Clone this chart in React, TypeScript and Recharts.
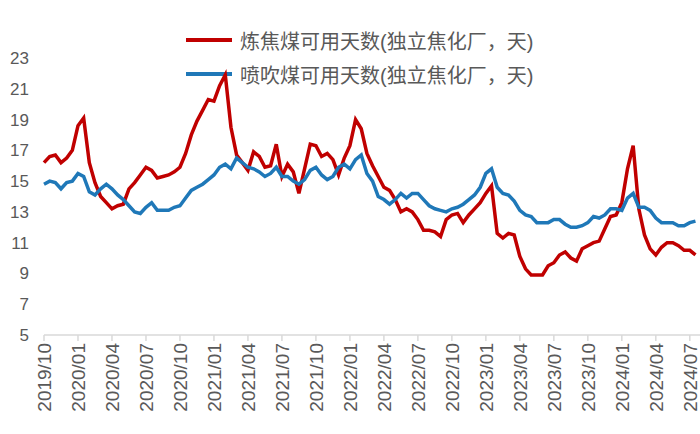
import { Line, LineChart, XAxis, YAxis } from "recharts";

// half-month samples starting 2019/10
const cokingCoal = [
  16.2, 16.6, 16.7, 16.2, 16.5, 17.0, 18.6, 19.1, 16.2, 14.9,
  14.0, 13.6, 13.2, 13.4, 13.5, 14.5, 14.9, 15.4, 15.9, 15.7,
  15.2, 15.3, 15.4, 15.6, 15.9, 16.8, 18.0, 18.9, 19.6, 20.3,
  20.2, 21.2, 21.9, 18.5, 16.7, 16.2, 15.7, 16.9, 16.6, 15.9,
  16.0, 17.4, 15.3, 16.1, 15.6, 14.2, 15.8, 17.4, 17.3, 16.6,
  16.8, 16.4, 15.4, 16.5, 17.3, 19.0, 18.4, 16.8, 16.0, 15.3,
  14.6, 14.4, 13.8, 13.0, 13.2, 13.0, 12.5, 11.8, 11.8, 11.7,
  11.4, 12.5, 12.8, 12.9, 12.3, 12.8, 13.2, 13.6, 14.2, 14.7,
  11.6, 11.3, 11.6, 11.5, 10.1, 9.3, 8.9, 8.9, 8.9, 9.5,
  9.7, 10.2, 10.4, 10.0, 9.8, 10.6, 10.8, 11.0, 11.1, 11.9,
  12.7, 12.8, 13.6, 15.8, 17.3, 13.2, 11.5, 10.6, 10.2, 10.7,
  11.0, 11.0, 10.8, 10.5, 10.5, 10.2,
];

const pciCoal = [
  14.8, 15.0, 14.9, 14.5, 14.9, 15.0, 15.5, 15.3, 14.3, 14.1,
  14.5, 14.8, 14.5, 14.1, 13.8, 13.4, 13.0, 12.9, 13.3, 13.6,
  13.1, 13.1, 13.1, 13.3, 13.4, 13.9, 14.4, 14.6, 14.8, 15.1,
  15.4, 15.9, 16.1, 15.8, 16.5, 16.2, 15.9, 15.8, 15.6, 15.3,
  15.5, 15.9, 15.3, 15.3, 15.0, 14.8, 15.1, 15.7, 15.9, 15.4,
  15.1, 15.3, 15.9, 16.1, 15.8, 16.4, 16.7, 15.5, 15.0, 14.0,
  13.8, 13.5, 13.8, 14.2, 13.9, 14.2, 14.2, 13.8, 13.4, 13.2,
  13.1, 13.0, 13.2, 13.3, 13.5, 13.8, 14.1, 14.6, 15.5, 15.8,
  14.6, 14.2, 14.1, 13.7, 13.1, 12.8, 12.7, 12.3, 12.3, 12.3,
  12.5, 12.5, 12.2, 12.0, 12.0, 12.1, 12.3, 12.7, 12.6, 12.8,
  13.2, 13.2, 13.1, 13.9, 14.2, 13.3, 13.3, 13.1, 12.6, 12.3,
  12.3, 12.3, 12.1, 12.1, 12.3, 12.4,
];

const quarterLabels = [
  "2019/10", "2020/01", "2020/04", "2020/07", "2020/10",
  "2021/01", "2021/04", "2021/07", "2021/10",
  "2022/01", "2022/04", "2022/07", "2022/10",
  "2023/01", "2023/04", "2023/07", "2023/10",
  "2024/01", "2024/04", "2024/07",
];

const seriesNames = ["炼焦煤可用天数(独立焦化厂，天)", "喷吹煤可用天数(独立焦化厂，天)"];

const yTicks = [5, 7, 9, 11, 13, 15, 17, 19, 21, 23];

const RED = "#C00000";
const BLUE = "#1F78B8";
const TEXT = "#595959";
const FONT = "'Liberation Sans', 'Noto Sans CJK SC', sans-serif";

const data = cokingCoal.map((v, i) => ({
  m: i * 0.5,
  coking: v,
  pci: pciCoal[i],
}));

const quarterTicks = quarterLabels.map((_, i) => i * 3);

function RotatedTick(props: any) {
  const { x, y, payload } = props;
  const label = quarterLabels[Math.round(payload.value / 3)] ?? "";
  return (
    <text
      x={x}
      y={y}
      transform={`rotate(-90, ${x}, ${y})`}
      textAnchor="end"
      dy="0.36em"
      fill={TEXT}
      fontSize={19}
      fontFamily={FONT}
    >
      {label}
    </text>
  );
}

function LegendBox() {
  const colors = [RED, BLUE];
  return (
    <div style={{ position: "absolute", top: 23, left: 186, zIndex: 0 }}>
      {seriesNames.map((name, i) => (
        <div key={name} style={{ display: "flex", alignItems: "center", height: 34 }}>
          <span style={{ display: "inline-block", width: 46, height: 4, background: colors[i], marginRight: 8 }} />
          <span style={{ color: TEXT, fontSize: 20, fontFamily: FONT, whiteSpace: "nowrap" }}>{name}</span>
        </div>
      ))}
    </div>
  );
}

export default function App() {
  return (
    <div style={{ position: "relative", width: 700, height: 434 }}>
      <style>{`body{margin:0;background:#fff;}`}</style>
      <LegendBox />
      <div style={{ position: "relative", zIndex: 1 }}>
        <LineChart width={700} height={434} data={data} margin={{ top: 58, right: 0, bottom: 0, left: 0 }}>
          <XAxis
            dataKey="m"
            type="number"
            domain={[0, 57.9]}
            ticks={quarterTicks}
            interval={0}
            height={99}
            tick={<RotatedTick />}
            axisLine={{ stroke: "#D9D9D9", strokeWidth: 1.5 }}
            tickLine={{ stroke: "#D9D9D9", strokeWidth: 1.5 }}
            tickSize={6}
          />
          <YAxis
            domain={[5, 23]}
            ticks={yTicks}
            interval={0}
            width={44}
            axisLine={false}
            tickLine={false}
            tickMargin={9}
            tick={{ fill: TEXT, fontSize: 17, fontFamily: FONT }}
          />
          <Line
            type="linear"
            dataKey="coking"
            name={seriesNames[0]}
            stroke={RED}
            strokeWidth={3.5}
            dot={false}
            isAnimationActive={false}
          />
          <Line
            type="linear"
            dataKey="pci"
            name={seriesNames[1]}
            stroke={BLUE}
            strokeWidth={3.5}
            dot={false}
            isAnimationActive={false}
          />
        </LineChart>
      </div>
    </div>
  );
}
